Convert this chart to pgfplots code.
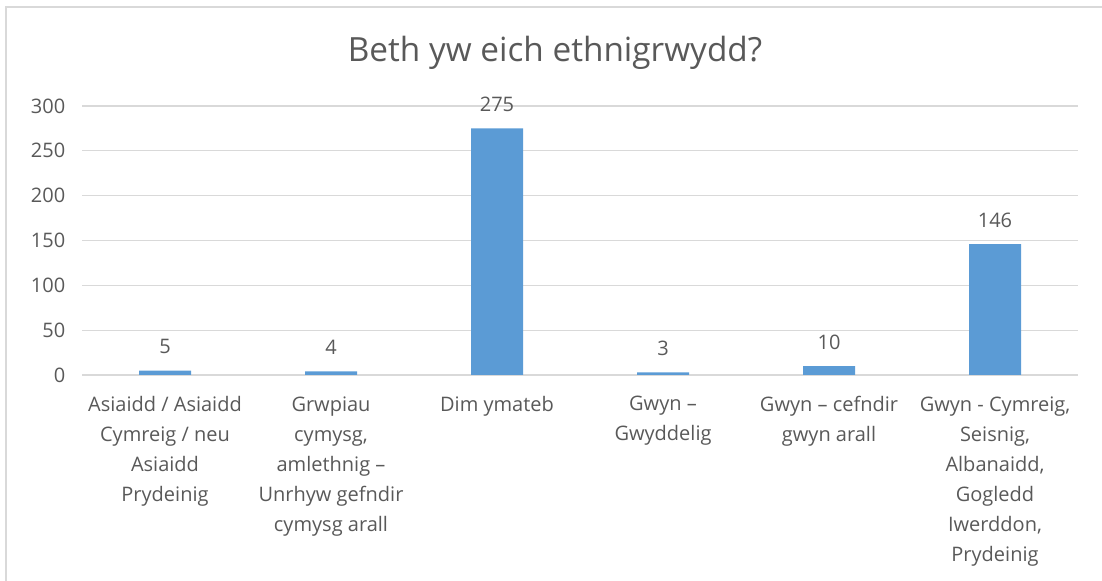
\documentclass[border=0pt]{standalone}
\usepackage{fontspec}
\setmainfont{Open Sans}
\usepackage{pgfplots}
\pgfplotsset{compat=1.18}

\definecolor{barblue}{HTML}{5B9BD5}
\definecolor{txtgray}{HTML}{595959}
\definecolor{gridgray}{HTML}{D9D9D9}
\definecolor{framegray}{HTML}{D9D9D9}

\begin{document}
\begin{tikzpicture}[x=0.75pt,y=0.75pt]
\useasboundingbox (0,0) rectangle (1102,581);
\begin{scope}
\clip (0,0) rectangle (1102,581);
\draw[framegray, line width=1pt] (6,-20) rectangle (1120,574);
\end{scope}
\node[txtgray, font=\fontsize{25}{30}\selectfont] at (555,528) {Beth yw eich ethnigrwydd?};
\begin{axis}[
  at={(82pt*0.75,206pt*0.75)},
  anchor=south west,
  scale only axis,
  width=747pt,
  height=201.75pt,
  xmin=-0.5, xmax=5.5,
  ymin=0, ymax=300,
  ytick={0,50,...,300},
  xtick=data,
  xticklabels={
    {Asiaidd / Asiaidd\\Cymreig / neu\\Asiaidd\\Prydeinig},
    {Grwpiau\\cymysg,\\amlethnig –\\Unrhyw gefndir\\cymysg arall},
    {Dim ymateb},
    {Gwyn –\\Gwyddelig},
    {Gwyn – cefndir\\gwyn arall},
    {Gwyn - Cymreig,\\Seisnig,\\Albanaidd,\\Gogledd\\Iwerddon,\\Prydeinig}},
  xticklabel style={align=center, text=txtgray,
    font=\fontsize{15}{22.5}\selectfont, anchor=north, yshift=-12.5pt},
  yticklabel style={text=txtgray, font=\fontsize{15}{18}\selectfont, xshift=-9pt},
  /pgf/number format/assume math mode=true,
  major tick length=0pt,
  axis line style={draw=none},
  ymajorgrids=true,
  grid style={gridgray, line width=0.9pt},
  ybar,
  bar width=39pt,
  nodes near coords,
  nodes near coords style={text=txtgray, font=\fontsize{15}{18}\selectfont, yshift=9pt},
  clip=false,
]
\addplot[fill=barblue, draw=none] coordinates {
  (0,5) (1,4) (2,275) (3,3) (4,10) (5,146)
};
\end{axis}
\end{tikzpicture}
\end{document}
